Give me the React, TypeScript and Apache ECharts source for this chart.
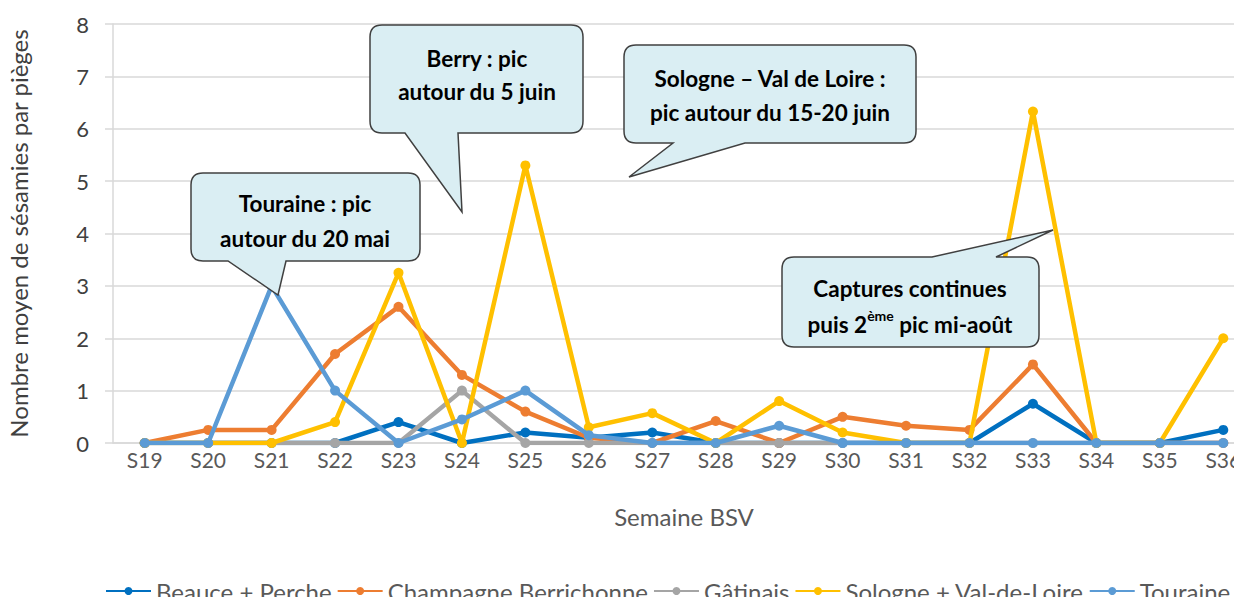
import React, { useEffect, useRef } from "react";
import * as echarts from "echarts";

const weeks = ["S19","S20","S21","S22","S23","S24","S25","S26","S27","S28","S29","S30","S31","S32","S33","S34","S35","S36"];
const beauce =     [0, 0, 0, 0, 0.4, 0, 0.2, 0.1, 0.2, 0, 0, 0, 0, 0, 0.75, 0, 0, 0.25];
const champagne =  [0, 0.25, 0.25, 1.7, 2.6, 1.3, 0.6, 0.1, 0, 0.42, 0, 0.5, 0.33, 0.25, 1.5, 0, 0, 0];
const gatinais =   [0, 0, 0, 0, 0, 1.0, 0, 0, 0, 0, 0, 0, 0, 0, 0, 0, 0, 0];
const sologne =    [0, 0, 0, 0.4, 3.25, 0, 5.3, 0.3, 0.57, 0, 0.8, 0.2, 0, 0, 6.33, 0, 0, 2.0];
const touraine =   [0, 0, 3.0, 1.0, 0, 0.45, 1.0, 0.15, 0, 0, 0.33, 0, 0, 0, 0, 0, 0, 0];
const seriesNames = ["Beauce + Perche", "Champagne Berrichonne", "Gâtinais", "Sologne + Val-de-Loire", "Touraine"];
const seriesColors = ["#0070C0", "#ED7D31", "#A5A5A5", "#FFC000", "#5B9BD5"];
const yTicks = [0, 1, 2, 3, 4, 5, 6, 7, 8];

const FONT = "Lato";

const calloutPaths: Record<string, string> = {
  calloutTouraine: "M 203 173 H 408 Q 420 173 420 185 V 249 Q 420 261 408 261 H 286 L 278 295 L 228 261 H 203 Q 191 261 191 249 V 185 Q 191 173 203 173 Z",
  calloutBerry: "M 382 25 H 571 Q 583 25 583 37 V 121 Q 583 133 571 133 H 458 L 462 212 L 405 133 H 382 Q 370 133 370 121 V 37 Q 370 25 382 25 Z",
  calloutSologne: "M 636 45 H 904 Q 916 45 916 57 V 131 Q 916 143 904 143 H 745 L 629 177 L 673 143 H 636 Q 624 143 624 131 V 57 Q 624 45 636 45 Z",
  calloutCaptures: "M 794 257 H 932 L 1053 230 L 996 257 H 1027 Q 1039 257 1039 269 V 335 Q 1039 347 1027 347 H 794 Q 782 347 782 335 V 269 Q 782 257 794 257 Z",
};

let registered = false;
function registerShapes() {
  if (registered) return;
  Object.keys(calloutPaths).forEach((k) => {
    echarts.graphic.registerShape(k, (echarts.graphic as any).extendPath(calloutPaths[k], {}));
  });
  registered = true;
}

export default function App() {
  const ref = useRef<HTMLDivElement>(null);
  useEffect(() => {
    if (!ref.current) return;
    registerShapes();
    const chart = echarts.init(ref.current, undefined, { renderer: "svg" });
    const allData = [beauce, champagne, gatinais, sologne, touraine];
    const CF = 22.5;
    const textStyle = { fontFamily: FONT, fontWeight: "bold" as const, fontSize: CF, fill: "#000" };
    const calloutText = (x: number, y: number, text: string) => ({
      type: "text",
      x, y, z: 101,
      style: { ...textStyle, text, textAlign: "center", textVerticalAlign: "middle" },
    });
    const shape = (name: string) => ({
      type: name, x: 0, y: 0, z: 100,
      style: { fill: "#DAEEF3", stroke: "#404040", lineWidth: 1.5 },
    });
    chart.setOption({
      animation: false,
      textStyle: { fontFamily: FONT },
      grid: { left: 113, right: -13, top: 24, bottom: 162, containLabel: false, outerBoundsMode: "none" },
      legend: {
        bottom: 0,
        left: 100,
        itemWidth: 45,
        itemHeight: 10,
        itemGap: 5,
        padding: [2, 5, 2, 5],
        textStyle: { fontFamily: FONT, fontSize: 24, color: "#595959" },
        data: seriesNames,
      },
      xAxis: {
        type: "category",
        data: weeks,
        boundaryGap: true,
        name: "Semaine BSV",
        nameLocation: "middle",
        nameGap: 61,
        nameTextStyle: { fontFamily: FONT, fontSize: 24, color: "#595959" },
        axisLine: { show: true, lineStyle: { color: "#D9D9D9", width: 1.5 } },
        axisTick: { show: false },
        axisLabel: { fontFamily: FONT, fontSize: 21, color: "#595959", margin: 6 },
      },
      yAxis: {
        type: "value",
        min: 0,
        max: 8,
        interval: 1,
        name: "Nombre moyen de sésamies par pièges",
        nameLocation: "middle",
        nameGap: 83,
        nameRotate: 90,
        nameTextStyle: { fontFamily: FONT, fontSize: 24, color: "#404040" },
        axisLine: { show: true, lineStyle: { color: "#D9D9D9", width: 1.5 } },
        axisTick: { show: true, length: 8, lineStyle: { color: "#D9D9D9", width: 1.5 } },
        splitLine: { show: true, lineStyle: { color: "#D9D9D9", width: 1.5 } },
        axisLabel: {
          fontFamily: FONT, fontSize: 22, color: "#404040", margin: 24,
          formatter: (v: number) => (yTicks.includes(v) ? String(v) : ""),
        },
      },
      series: seriesNames.map((n, i) => ({
        name: n,
        type: "line",
        data: allData[i],
        color: seriesColors[i],
        symbol: "circle",
        symbolSize: 10,
        lineStyle: { width: 4.5, color: seriesColors[i] },
        itemStyle: { color: seriesColors[i] },
        z: 2 + i,
      })),
      graphic: [
        shape("calloutTouraine"),
        shape("calloutBerry"),
        shape("calloutSologne"),
        shape("calloutCaptures"),
        calloutText(305, 203, "Touraine : pic"),
        calloutText(305, 238, "autour du 20 mai"),
        calloutText(477, 58, "Berry : pic"),
        calloutText(477, 91, "autour du 5 juin"),
        calloutText(770, 78, "Sologne – Val de Loire :"),
        calloutText(770, 112, "pic autour du 15-20 juin"),
        calloutText(910, 288, "Captures continues"),
        {
          type: "text",
          x: 910, y: 322, z: 101,
          style: {
            ...textStyle,
            text: "{n|puis 2}{s|ème}{n| pic mi-août}",
            textAlign: "center",
            textVerticalAlign: "middle",
            rich: {
              n: { fontFamily: FONT, fontWeight: "bold", fontSize: CF, color: "#000", verticalAlign: "bottom", lineHeight: 28 },
              s: { fontFamily: FONT, fontWeight: "bold", fontSize: 14, color: "#000", verticalAlign: "top", padding: [0, 0, 10, 0], lineHeight: 28 },
            },
          },
        },
      ],
    });
    return () => chart.dispose();
  }, []);
  return <div ref={ref} style={{ width: 1242, height: 605, margin: -8 }} />;
}
